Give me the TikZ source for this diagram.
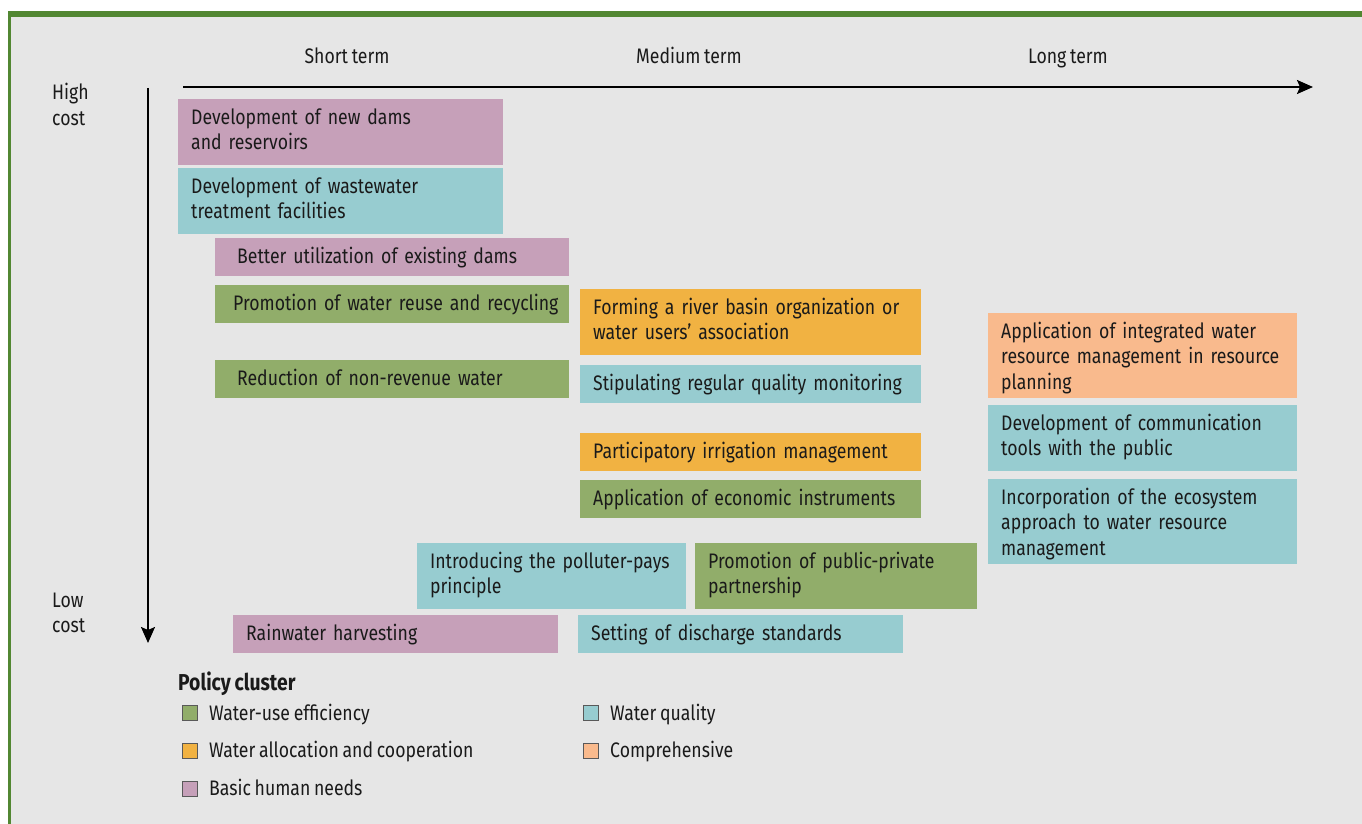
\documentclass[tikz,border=0pt]{standalone}
\usepackage{fontspec}
\setmainfont[FakeStretch=0.84, WordSpace=0.8]{Fira Sans}
\usetikzlibrary{arrows.meta}

% cluster colours
\definecolor{humanc}{RGB}{198,160,185}
\definecolor{qualc}{RGB}{151,204,208}
\definecolor{effc}{RGB}{145,173,106}
\definecolor{allocc}{RGB}{241,178,66}
\definecolor{compc}{RGB}{249,186,141}
\definecolor{panelc}{RGB}{230,230,230}
\definecolor{framec}{RGB}{82,135,50}
\definecolor{inkc}{RGB}{26,26,26}

\newcommand{\boxfont}{\fontsize{21}{25.5}\selectfont}

\tikzset{
  cbox/.style={anchor=north west, inner sep=0pt, align=left, text height=25pt,
    font=\boxfont, text=inkc, execute at begin node={\leftskip=13pt}},
  pad/.style={execute at begin node={\leftskip=#1}},
  humanbox/.style={cbox, fill=humanc},
  qualbox/.style={cbox, fill=qualc},
  effbox/.style={cbox, fill=effc},
  allocbox/.style={cbox, fill=allocc},
  compbox/.style={cbox, fill=compc},
  termlabel/.style={anchor=base, inner sep=0pt, font=\boxfont, text=inkc},
  costlabel/.style={anchor=base west, inner sep=0pt, align=left, text width=60pt,
    font=\boxfont, text=inkc},
  swatch/.style={draw=black!65, line width=1pt, minimum size=15pt, inner sep=0pt},
  legtext/.style={anchor=base west, inner sep=0pt, font=\boxfont, text=inkc},
  axis/.style={line width=2pt, draw=black, -{Stealth[length=16pt,width=14pt,inset=3pt]}}
}

\begin{document}
\begin{tikzpicture}[x=1pt, y=-1pt]
  \useasboundingbox (0,0) rectangle (1362,824);

  % --- panel and frame ---
  \fill[panelc] (9,14) rectangle (1362,824);
  \fill[framec] (7.5,11.5) rectangle (1362,17.5);
  \fill[framec] (7.5,11.5) rectangle (10.5,824);

  % --- axes ---
  \coordinate (tstart) at (183,87);
  \coordinate (tend) at (1313,87);
  \coordinate (cstart) at (148,88);
  \coordinate (cend) at (148,643);
  \draw[axis] (tstart) -- (tend);
  \draw[axis] (cstart) -- (cend);

  \node[termlabel] (short) at (347,64) {Short term};
  \node[termlabel] (medium) at (689,64) {Medium term};
  \node[termlabel] (long) at (1068,64) {Long term};
  \node[costlabel] (high) at (52,100) {High\\cost};
  \node[costlabel] (low) at (52,607) {Low\\cost};

  % --- short term ---
  \node[humanbox, text width=325pt, text depth=41pt] (newdams) at (178,99) {Development of new dams\\and reservoirs};
  \node[qualbox, text width=325pt, text depth=41pt] (wastewater) at (178,168) {Development of wastewater\\treatment facilities};
  \node[humanbox, pad=22pt, text width=354pt, text depth=13pt] (existdams) at (215,238) {Better utilization of existing dams};
  \node[effbox, pad=18pt, text width=354pt, text depth=13pt] (reuse) at (215,285) {Promotion of water reuse and recycling};
  \node[effbox, pad=22pt, text width=354pt, text depth=13pt] (nonrevenue) at (215,360) {Reduction of non-revenue water};

  % --- medium term ---
  \node[allocbox, text width=341pt, text depth=41pt] (basinorg) at (580,289) {Forming a river basin organization or\\water users’ association};
  \node[qualbox, text width=341pt, text depth=13pt] (monitoring) at (580,365) {Stipulating regular quality monitoring};
  \node[allocbox, text width=341pt, text depth=13pt] (irrigation) at (580,433) {Participatory irrigation management};
  \node[effbox, text width=341pt, text depth=13pt] (econinstr) at (580,480) {Application of economic instruments};

  % --- long term ---
  \node[compbox, text width=309pt, text depth=60pt] (iwrm) at (988,313) {Application of integrated water\\resource management in resource\\planning};
  \node[qualbox, text width=309pt, text depth=41pt] (commtools) at (988,405) {Development of communication\\tools with the public};
  \node[qualbox, text width=309pt, text depth=60pt] (ecosystem) at (988,479) {Incorporation of the ecosystem\\approach to water resource\\management};

  % --- low cost row ---
  \node[qualbox, text width=269pt, text depth=41pt] (polluter) at (417,543) {Introducing the polluter-pays\\principle};
  \node[effbox, text width=282pt, text depth=41pt] (ppp) at (695,543) {Promotion of public-private\\partnership};
  \node[humanbox, text width=325pt, text depth=13pt] (rainwater) at (233,615) {Rainwater harvesting};
  \node[qualbox, text width=325pt, text depth=13pt] (discharge) at (578,615) {Setting of discharge standards};

  % --- legend ---
  \node[legtext, font=\fontsize{23}{27}\bfseries] (legtitle) at (178,690) {Policy cluster};
  \node[swatch, fill=effc] (sweff) at (189.5,713) {};
  \node[legtext] (lgeff) at (209,720) {Water-use efficiency};
  \node[swatch, fill=allocc] (swalloc) at (189.5,751) {};
  \node[legtext] (lgalloc) at (209,757) {Water allocation and cooperation};
  \node[swatch, fill=humanc] (swhuman) at (189.5,789) {};
  \node[legtext] (lghuman) at (209,795) {Basic human needs};
  \node[swatch, fill=qualc] (swqual) at (590.5,713) {};
  \node[legtext] (lgqual) at (610,720) {Water quality};
  \node[swatch, fill=compc] (swcomp) at (590.5,751) {};
  \node[legtext] (lgcomp) at (610,757) {Comprehensive};
\end{tikzpicture}
\end{document}
